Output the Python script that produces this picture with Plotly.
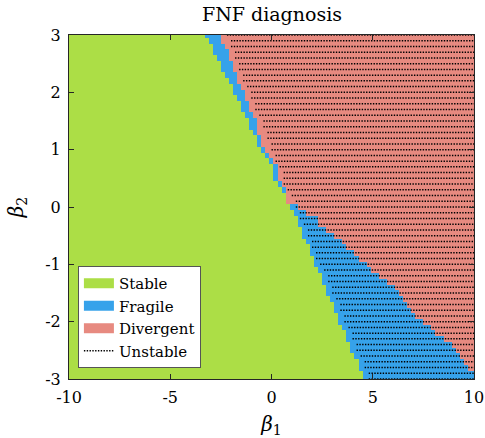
import numpy as np
import plotly.graph_objects as go

# beta2 rows (top to bottom)
beta2 = [round(3.0 - 0.1 * k, 1) for k in range(61)]
beta1 = [round(-10 + 0.2 * i, 1) for i in range(101)]

# first non-stable beta1 (cell centre) per row
stable_end = [-3.2, -3.0, -2.8, -2.8, -2.6, -2.4, -2.4, -2.2, -2.0, -1.8,
              -1.8, -1.6, -1.4, -1.4, -1.2, -1.0, -1.0, -0.8, -0.6, -0.6,
              -0.4, -0.2, 0.0, 0.2, 0.2, 0.2, 0.4, 0.6, 0.8, 0.8,
              1.0, 1.2, 1.4, 1.4, 1.6, 1.6, 1.8, 2.0, 2.0, 2.2,
              2.2, 2.4, 2.6, 2.6, 2.8, 2.8, 3.0, 3.2, 3.2, 3.4,
              3.4, 3.6, 3.8, 3.8, 4.0, 4.0, 4.2, 4.4, 4.4, 4.6,
              4.6]
# first divergent beta1 per row
divergent_start = [-2.4, -2.4, -2.2, -2.0, -2.0, -1.8, -1.8, -1.6, -1.6, -1.4,
                   -1.2, -1.2, -1.0, -1.0, -0.8, -0.6, -0.6, -0.6, -0.4, -0.4,
                   -0.2, 0.0, 0.2, 0.4, 0.4, 0.4, 0.6, 0.8, 0.8, 0.8,
                   1.4, 1.8, 2.4, 2.4, 2.8, 3.2, 3.6, 3.8, 4.2, 4.4,
                   4.8, 5.0, 5.4, 5.8, 6.2, 6.4, 6.6, 6.8, 7.0, 7.2,
                   7.6, 8.0, 8.2, 8.6, 9.0, 9.2, 9.4, 9.6, 9.8, 10.4,
                   10.4]
# first unstable beta1 per row
unstable_start = [-2.2, -2.0, -2.0, -1.8, -1.8, -1.6, -1.6, -1.4, -1.4, -1.2,
                  -1.0, -1.0, -0.8, -0.8, -0.6, -0.4, -0.4, -0.2, -0.2, 0.0,
                  0.0, 0.2, 0.2, 0.4, 0.6, 0.6, 0.6, 0.8, 1.0, 1.2,
                  1.2, 1.4, 1.4, 1.6, 1.8, 1.8, 2.0, 2.0, 2.2, 2.2,
                  2.4, 2.6, 2.8, 2.8, 3.0, 3.0, 3.2, 3.4, 3.4, 3.6,
                  3.6, 3.8, 4.0, 4.0, 4.2, 4.2, 4.4, 4.6, 4.6, 4.8,
                  4.8]

green = "rgb(172,222,70)"
blue = "rgb(54,162,234)"
red = "rgb(231,138,128)"

b1 = np.array(beta1)
z = []
for g, r in zip(stable_end, divergent_start):
    row = np.where(b1 < g - 1e-9, 0, np.where(b1 < r - 1e-9, 1, 2))
    z.append(row.tolist())

fig = go.Figure()
fig.add_trace(go.Heatmap(x=beta1, y=beta2, z=z, zmin=0, zmax=2,
                         colorscale=[[0, green], [0.5, blue], [1, red]],
                         showscale=False, zsmooth=False, hoverinfo="skip"))

for name, col in [("Stable", green), ("Fragile", blue), ("Divergent", red)]:
    fig.add_trace(go.Scatter(x=[None], y=[None], mode="lines", name=name,
                             line=dict(color=col, width=16)))

ux, uy = [], []
for b2, u in zip(beta2, unstable_start):
    ux += [u, beta1[-1], None]
    uy += [b2, b2, None]
fig.add_trace(go.Scatter(x=ux, y=uy, mode="lines", name="Unstable",
                         line=dict(color="black", width=1.5, dash="1.4px,1.4px")))

font = "DejaVu Serif"
axcol = "#262626"
fig.update_layout(
    width=485, height=438,
    margin=dict(l=69, r=11, t=35, b=59),
    paper_bgcolor="white", plot_bgcolor="white",
    font=dict(family=font, color="black", size=16),
    title=dict(text="FNF diagnosis", x=272 / 485, xanchor="center",
               y=1 - 14 / 438, yanchor="middle", font=dict(size=19)),
    showlegend=True,
    legend=dict(x=0.022, y=0.032, xanchor="left", yanchor="bottom",
                bgcolor="white", bordercolor="#555555", borderwidth=1,
                font=dict(size=15), tracegroupgap=0, itemwidth=30),
)
fig.update_xaxes(range=[-10, 10], tickvals=[-10, -5, 0, 5, 10],
                 ticktext=["-10", "-5", "0", "5", "10"], automargin=False,
                 ticks="inside", ticklen=5, tickcolor=axcol, showline=True,
                 linecolor=axcol, linewidth=1, mirror="ticks", showgrid=False,
                 zeroline=False, ticklabelstandoff=4,
                 title=dict(text="<i>β</i><sub>1</sub>", font=dict(size=20), standoff=17))
fig.update_yaxes(range=[-3, 3], tickvals=[-3, -2, -1, 0, 1, 2, 3],
                 ticktext=["-3", "-2", "-1", "0", "1", "2", "3"], automargin=False,
                 ticks="inside", ticklen=5, tickcolor=axcol, showline=True,
                 linecolor=axcol, linewidth=1, mirror="ticks", showgrid=False,
                 zeroline=False, ticklabelstandoff=4,
                 title=dict(text="<i>β</i><sub>2</sub>", font=dict(size=20), standoff=16))
fig.write_html("out.html")
